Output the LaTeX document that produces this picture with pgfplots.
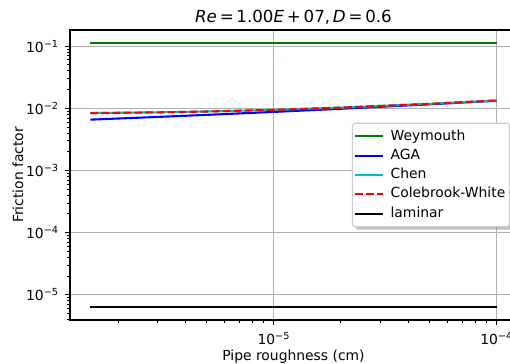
\documentclass[border=0pt]{standalone}
\usepackage{pgfplots}
\pgfplotsset{compat=1.18}
\usepackage{fontspec}
\setmainfont{DejaVu Sans}
\usetikzlibrary{shadows}

\definecolor{mplgreen}{rgb}{0,0.5,0}
\definecolor{mplcyan}{rgb}{0,0.75,0.75}
\definecolor{gridgray}{HTML}{B0B0B0}
\definecolor{legframe}{HTML}{CCCCCC}

% keep the legend's drop shadow on its frame only
\makeatletter
\tikzset{no preactions/.code={\let\tikz@preactions\pgfutil@empty}}
\makeatother

% friction factor vs. pipe roughness (cm), Re = 1e7, D = 0.6
\pgfplotstableread{
rough     weymouth  aga       chen      colebrook laminar
1.5e-6    0.1115    0.006566  0.00838   0.00837   6.4e-6
3e-6      0.1115    0.007257  0.00861   0.00860   6.4e-6
5e-6      0.1115    0.007839  0.00888   0.00887   6.4e-6
1e-5      0.1115    0.008746  0.00944   0.00943   6.4e-6
2e-5      0.1115    0.009821  0.01026   0.01025   6.4e-6
5e-5      0.1115    0.011575  0.01180   0.01179   6.4e-6
1e-4      0.1115    0.013234  0.01337   0.01336   6.4e-6
}\frictable

\newcommand{\pw}[1]{10\textsuperscript{−#1}}

\begin{document}
\begin{tikzpicture}
\begin{axis}[
  name=ax,
  scale only axis,
  width=321.84pt, height=208.8pt,
  xmode=log, ymode=log,
  xmin=1.216e-6, xmax=1.234e-4,
  ymin=3.93e-6, ymax=0.1817,
  font=\fontsize{10}{12}\selectfont,
  xtick={1e-5,1e-4},
  xticklabels={\pw{5},\pw{4}},
  ytick={1e-5,1e-4,1e-3,1e-2,1e-1},
  yticklabels={\pw{5},\pw{4},\pw{3},\pw{2},\pw{1}},
  minor xtick={2e-6,3e-6,4e-6,5e-6,6e-6,7e-6,8e-6,9e-6,
               2e-5,3e-5,4e-5,5e-5,6e-5,7e-5,8e-5,9e-5},
  minor ytick={2e-6,3e-6,4e-6,5e-6,6e-6,7e-6,8e-6,9e-6,
               2e-5,3e-5,4e-5,5e-5,6e-5,7e-5,8e-5,9e-5,
               2e-4,3e-4,4e-4,5e-4,6e-4,7e-4,8e-4,9e-4,
               2e-3,3e-3,4e-3,5e-3,6e-3,7e-3,8e-3,9e-3,
               2e-2,3e-2,4e-2,5e-2,6e-2,7e-2,8e-2,9e-2},
  tick pos=left, tick align=outside,
  major tick length=3.5pt, minor tick length=2pt,
  every major tick/.append style={black, line width=0.8pt},
  every minor tick/.append style={black, line width=0.6pt},
  grid=major,
  major grid style={gridgray, line width=0.8pt},
  axis line style={line width=0.8pt},
  xticklabel style={anchor=base, yshift=-14.4pt},
  yticklabel style={xshift=-1pt},
  xlabel={Pipe roughness (cm)},
  xlabel style={at={([yshift=-29.3pt]axis description cs:0.5,0)}, anchor=base},
  ylabel={Friction factor},
  ylabel style={at={([xshift=-33.8pt]axis description cs:0,0.5)}, anchor=base, rotate=0},
  every axis title shift=0pt,
  title={\textit{Re}\,=\,1.00\textit{E}\,+\,07,\,\textit{D}\,=\,0.6},
  title style={at={([yshift=5.6pt]axis description cs:0.5,1)}, anchor=base,
    font=\fontsize{12}{14}\selectfont},
  legend cell align=left,
  legend image code/.code={\draw[no preactions, #1] (0pt,0pt) -- (20pt,0pt);},
  legend style={
    at={([xshift=-5pt]axis description cs:1,0.5)}, anchor=east,
    draw=legframe, line width=0.8pt, rounded corners=2pt,
    fill=white,
    drop shadow={shadow xshift=2pt, shadow yshift=-2pt, fill=gray, opacity=0.5},
    inner xsep=1pt, inner ysep=2.5pt, row sep=0pt,
    /tikz/every odd column/.append style={column sep=3pt},
    nodes={no preactions, inner xsep=2pt, inner ysep=2pt, text height=7.6pt, text depth=2.3pt,
           font=\fontsize{10}{12}\selectfont},
  },
]
\addplot[mplgreen, line width=1.5pt] table[x=rough, y=weymouth] {\frictable};
\addlegendentry{Weymouth}
\addplot[blue, line width=1.5pt] table[x=rough, y=aga] {\frictable};
\addlegendentry{AGA}
\addplot[mplcyan, line width=1.5pt] table[x=rough, y=chen] {\frictable};
\addlegendentry{Chen}
\addplot[red, line width=1.5pt, dash pattern=on 5.55pt off 2.4pt] table[x=rough, y=colebrook] {\frictable};
\addlegendentry{Colebrook-White}
\addplot[black, line width=1.5pt] table[x=rough, y=laminar] {\frictable};
\addlegendentry{laminar}
\end{axis}
\pgfresetboundingbox
\path ([xshift=-50.4pt, yshift=-31.68pt]ax.south west)
  rectangle ([xshift=316.8pt, yshift=21.6pt]ax.north west);
\end{tikzpicture}
\end{document}
